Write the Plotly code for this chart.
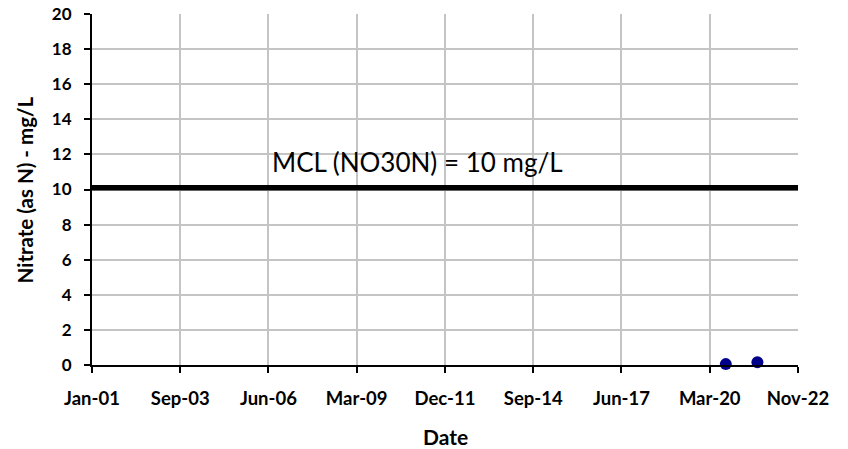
import plotly.graph_objects as go

# Data
sample_dates = ["2020-08-30", "2021-08-23"]
nitrate_values = [0.05, 0.16]

mcl_dates = ["2001-01-01", "2022-11-26"]
mcl_values = [10.1, 10.1]
mcl_label = "MCL (NO30N) = 10 mg/L"

tick_dates = ["2001-01-01", "2003-09-28", "2006-06-23", "2009-03-19", "2011-12-14",
              "2014-09-09", "2017-06-05", "2020-03-01", "2022-11-26"]
tick_labels = ["Jan-01", "Sep-03", "Jun-06", "Mar-09", "Dec-11",
               "Sep-14", "Jun-17", "Mar-20", "Nov-22"]
y_ticks = [0, 2, 4, 6, 8, 10, 12, 14, 16, 18, 20]
x_title = "Date"
y_title = "Nitrate (as N) - mg/L"

FONT = "Lato"

fig = go.Figure()
fig.add_trace(go.Scatter(x=mcl_dates, y=mcl_values, mode="lines",
                         line=dict(color="black", width=5.5), showlegend=False,
                         hoverinfo="skip"))
fig.add_trace(go.Scatter(x=sample_dates, y=nitrate_values, mode="markers",
                         marker=dict(color="#00008B", size=12), showlegend=False,
                         cliponaxis=False))

fig.add_annotation(x="2006-07-10", y=11.55, text=mcl_label, showarrow=False,
                   xanchor="left", yanchor="middle",
                   font=dict(family=FONT, size=26, color="black"))

# axis titles
fig.add_annotation(xref="paper", yref="paper", x=0.5, y=-0.203, text="<b>" + x_title + "</b>",
                   showarrow=False, xanchor="center", yanchor="middle",
                   font=dict(family=FONT, size=21, color="black"))
fig.add_annotation(xref="paper", yref="paper", x=-0.095, y=0.5, text="<b>" + y_title + "</b>",
                   showarrow=False, xanchor="center", yanchor="middle", textangle=-90,
                   font=dict(family=FONT, size=20.5, color="black"))

fig.update_layout(
    width=848, height=449,
    margin=dict(l=92, r=50, t=14, b=84),
    paper_bgcolor="white", plot_bgcolor="white",
    font=dict(family=FONT, color="black"),
)
fig.update_xaxes(
    type="date", range=[tick_dates[0], tick_dates[-1]],
    tickmode="array", tickvals=tick_dates, ticktext=tick_labels,
    tickfont=dict(family=FONT, size=18.5, color="black", weight="bold"),
    showgrid=True, gridcolor="#C4C4C4", gridwidth=1.5,
    showline=True, linecolor="black", linewidth=2,
    ticks="outside", ticklen=6, tickcolor="black", tickwidth=2,
    ticklabelstandoff=10, ticklabeloverflow="allow",
    automargin=False, zeroline=False,
)
fig.update_yaxes(
    range=[0, 20], tickmode="array", tickvals=y_ticks,
    tickfont=dict(family=FONT, size=17, color="black", weight="bold"),
    showgrid=True, gridcolor="#C4C4C4", gridwidth=1.5,
    showline=True, linecolor="black", linewidth=2,
    ticks="outside", ticklen=6, tickcolor="black", tickwidth=2,
    ticklabelstandoff=9, ticklabeloverflow="allow",
    automargin=False, zeroline=False,
)

fig.write_html("out.html", config={"displayModeBar": False},
               post_script="document.body.style.margin='0px';")
